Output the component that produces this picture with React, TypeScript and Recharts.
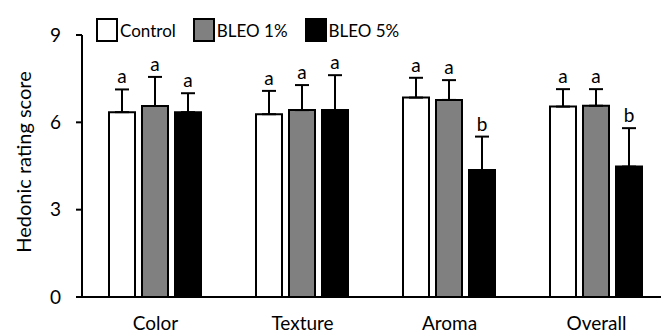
import React from 'react';
import {
  BarChart,
  Bar,
  XAxis,
  YAxis,
  ErrorBar,
  LabelList,
} from 'recharts';

const categories = ['Color', 'Texture', 'Aroma', 'Overall'];
const controlValues = [6.35, 6.28, 6.85, 6.54];
const bleo1Values = [6.56, 6.42, 6.77, 6.57];
const bleo5Values = [6.35, 6.42, 4.36, 4.48];
const controlErr = [0.78, 0.8, 0.68, 0.6];
const bleo1Err = [1.0, 0.86, 0.68, 0.57];
const bleo5Err = [0.65, 1.2, 1.15, 1.32];
const controlLetters = ['a', 'a', 'a', 'a'];
const bleo1Letters = ['a', 'a', 'a', 'a'];
const bleo5Letters = ['a', 'a', 'b', 'b'];
const yTicks = [0, 3, 6, 9];

const series = [
  { key: 'control', name: 'Control', fill: '#ffffff', values: controlValues, errs: controlErr, letters: controlLetters },
  { key: 'bleo1', name: 'BLEO 1%', fill: '#808080', values: bleo1Values, errs: bleo1Err, letters: bleo1Letters },
  { key: 'bleo5', name: 'BLEO 5%', fill: '#000000', values: bleo5Values, errs: bleo5Err, letters: bleo5Letters },
];

const data = categories.map((name, i) => {
  const row: any = { name };
  series.forEach((s) => {
    row[s.key] = s.values[i];
    row[s.key + 'Err'] = [0, s.errs[i]];
    row[s.key + 'Letter'] = s.letters[i];
  });
  return row;
});

const FONT = 'Lato, sans-serif';

const makeLetter = (values: number[], errs: number[]) => (props: any) => {
  const { x, y, width, height, value, index } = props;
  const ppu = height / values[index];
  const top = y - errs[index] * ppu;
  return (
    <text
      x={x + width / 2}
      y={top - 6}
      textAnchor="middle"
      fontSize={19}
      fontFamily={FONT}
      fill="#000"
    >
      {value}
    </text>
  );
};

// legend sits over the chart, top-left like the original
const LegendBox = () => (
  <div
    style={{
      position: 'absolute',
      top: 18,
      left: 96,
      display: 'flex',
      alignItems: 'center',
      fontFamily: FONT,
      fontSize: 17,
      lineHeight: '23px',
    }}
  >
    {series.map((s) => (
      <div key={s.key} style={{ display: 'flex', alignItems: 'center', marginRight: 17 }}>
        <div
          style={{
            width: 18,
            height: 20,
            background: s.fill,
            border: '2px solid #000',
            marginRight: 2,
          }}
        />
        <span>{s.name}</span>
      </div>
    ))}
  </div>
);

const App = () => {
  return (
    <div style={{ width: 661, height: 333, overflow: 'hidden', position: 'relative' }}>
      <style>{'body{margin:0;overflow:hidden;}'}</style>
      <BarChart
        width={680}
        height={333}
        data={data}
        margin={{ top: 35, right: 10, bottom: 0, left: 0 }}
        barCategoryGap={27}
        barGap={7}
      >
        <XAxis
          dataKey="name"
          axisLine={{ stroke: '#000', strokeWidth: 2 }}
          tickLine={false}
          tickSize={0}
          tickMargin={20}
          height={36}
          tick={{ fill: '#000', fontSize: 19, fontFamily: FONT }}
        />
        <YAxis
          domain={[0, 9]}
          ticks={yTicks}
          width={82}
          axisLine={{ stroke: '#000', strokeWidth: 2 }}
          tickLine={{ stroke: '#000', strokeWidth: 2 }}
          tickSize={6}
          tickMargin={15}
          tick={{ fill: '#000', fontSize: 19, fontFamily: FONT }}
          label={{
            content: (p: any) => {
              const vb = p.viewBox || { y: 35, height: 262 };
              const cy = vb.y + vb.height / 2 - 4;
              return (
                <text
                  x={23}
                  y={cy}
                  transform={`rotate(-90, 23, ${cy})`}
                  textAnchor="middle"
                  dominantBaseline="central"
                  fontSize={20}
                  fontFamily={FONT}
                  fill="#000"
                >
                  Hedonic rating score
                </text>
              );
            },
          }}
        />
        {series.map((s) => (
          <Bar
            key={s.key}
            dataKey={s.key}
            name={s.name}
            fill={s.fill}
            stroke="#000"
            strokeWidth={2}
            isAnimationActive={false}
          >
            <ErrorBar
              dataKey={s.key + 'Err'}
              direction="y"
              width={7}
              stroke="#000"
              strokeWidth={2}
              isAnimationActive={false}
            />
            <LabelList dataKey={s.key + 'Letter'} content={makeLetter(s.values, s.errs)} />
          </Bar>
        ))}
      </BarChart>
      <LegendBox />
    </div>
  );
};

export default App;
